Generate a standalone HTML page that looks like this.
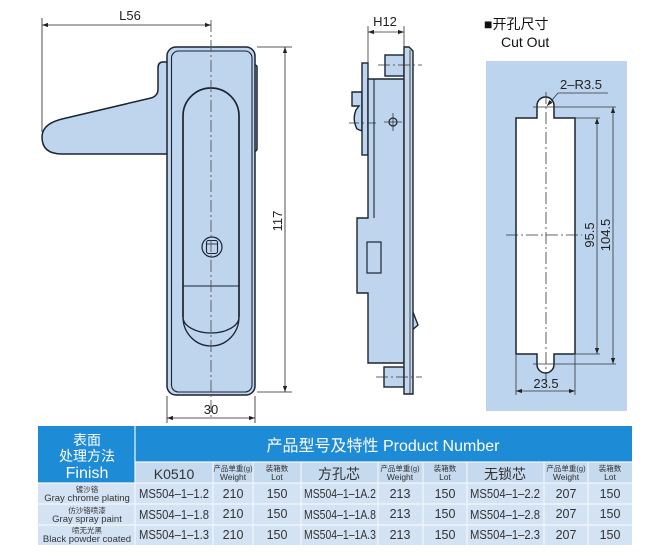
<!DOCTYPE html>
<html><head><meta charset="utf-8">
<style>
html,body{margin:0;padding:0;background:#fff;}
svg{display:block;}
text{font-family:"Liberation Sans","Noto Sans CJK SC",sans-serif;}
</style></head>
<body>
<svg width="672" height="557" viewBox="0 0 672 557" xmlns="http://www.w3.org/2000/svg">
<defs>
<marker id="a" viewBox="0 0 10 10" refX="10" refY="5" markerWidth="8" markerHeight="6" orient="auto-start-reverse" markerUnits="userSpaceOnUse"><path d="M0,1.5 L10,5 L0,8.5 Z" fill="#222"/></marker>
</defs>
<rect width="672" height="557" fill="#fff"/>

<!-- ============ FRONT VIEW ============ -->
<g stroke="#1a2433" stroke-width="1.5" fill="#bfd5ee">
  <rect x="250" y="65" width="7" height="86" rx="2"/>
  <path d="M168,62 L163,62 Q158,62 158,68 L158,89 Q158,96 151,98 L62,119 Q42,124 42,137 Q42,154 62,154 L168,154 Z"/>
  <rect x="167" y="47" width="88" height="348" rx="9"/>
  <rect x="171.5" y="51" width="80.5" height="341" rx="7" fill="none" stroke-width="1.1"/>
  <path d="M183,317 L183,116 A28,28 0 0 1 239,116 L239,317" fill="none" stroke-width="1.7"/>
  <path d="M183,317 A28,29 0 0 0 239,317" fill="none" stroke-width="1.3"/>
  <path d="M183,317 A28,16 0 0 0 239,317" fill="none" stroke-width="1.3"/>
  <line x1="183" y1="286" x2="239" y2="286" stroke-width="1.1"/>
  <circle cx="212" cy="247" r="10" stroke-width="1.2"/>
  <rect x="206.5" y="240.5" width="11" height="13" rx="2" stroke-width="1.1"/>
  <line x1="206.5" y1="244" x2="217.5" y2="244" stroke-width="0.8"/>
</g>
<line x1="211" y1="20" x2="211" y2="418" stroke="#555" stroke-width="0.9" stroke-dasharray="12 3 2 3"/>

<g stroke="#222" stroke-width="0.8" fill="none">
  <line x1="42" y1="18" x2="42" y2="132"/>
  <line x1="42" y1="25" x2="211" y2="25" marker-start="url(#a)" marker-end="url(#a)"/>
  <line x1="257" y1="47" x2="292" y2="47"/>
  <line x1="257" y1="392" x2="292" y2="392"/>
  <line x1="285" y1="47" x2="285" y2="392" marker-start="url(#a)" marker-end="url(#a)"/>
  <line x1="167" y1="396" x2="167" y2="423"/>
  <line x1="255" y1="396" x2="255" y2="423"/>
  <line x1="167" y1="418" x2="255" y2="418" marker-start="url(#a)" marker-end="url(#a)"/>
</g>
<text x="130" y="20" font-size="13" text-anchor="middle" fill="#222">L56</text>
<text transform="translate(282,221) rotate(-90)" font-size="13" text-anchor="middle" fill="#222">117</text>
<text x="211" y="414" font-size="13" text-anchor="middle" fill="#222">30</text>

<!-- ============ SIDE VIEW ============ -->
<g stroke="#1a2433" stroke-width="1.4" fill="#bfd5ee">
  <rect x="385" y="55" width="19" height="21"/>
  <rect x="384" y="367" width="20" height="20"/>
  <path d="M352,92 L362,92 L362,131 L357,129 Q352,119 356,110 L359,106 L352,106 Z"/>
  <rect x="362" y="63" width="6" height="92"/>
  <path d="M368,79 L404,79 L404,363 L368,363 L368,293 L357,293 L357,218 L368,218 Z"/>
  <line x1="374" y1="79" x2="374" y2="218" stroke-width="1.1"/>
  <rect x="367" y="242" width="14" height="31" stroke-width="1.2"/>
  <path d="M411,307 L418,325 L411,331 Z"/>
  <path d="M404,47 L409,47 L413,51 L413,394 L404,394 Z" fill="#c6d7ea"/>
  <line x1="410" y1="50" x2="410" y2="394" stroke-width="0.8"/>
  <circle cx="393" cy="122" r="4" fill="none" stroke-width="1.2"/>
</g>
<g stroke="#333" stroke-width="0.8" fill="none">
  <line x1="378" y1="65" x2="422" y2="65" stroke-dasharray="12 3 2 3"/>
  <line x1="376" y1="377" x2="422" y2="377" stroke-dasharray="12 3 2 3"/>
  <line x1="349" y1="123" x2="376" y2="123" stroke-dasharray="10 3 2 3"/>
  <line x1="384" y1="122" x2="402" y2="122"/>
  <line x1="393" y1="113" x2="393" y2="131"/>
  <line x1="368" y1="26" x2="368" y2="79"/>
  <line x1="404" y1="26" x2="404" y2="47"/>
  <line x1="368" y1="32" x2="404" y2="32" marker-start="url(#a)" marker-end="url(#a)"/>
</g>
<text x="385" y="26" font-size="13" text-anchor="middle" fill="#222">H12</text>

<!-- ============ CUT OUT ============ -->
<text x="484" y="29" font-size="14" fill="#111">■开孔尺寸</text>
<text x="501" y="47" font-size="14" fill="#111">Cut Out</text>
<rect x="486" y="61" width="141" height="350" fill="#bcd4ed"/>
<path d="M516,118 L537,118 L537,105.5 A8.5,8.5 0 0 1 554,105.5 L554,118 L575,118 L575,354 L554,354 L554,364.5 A8.5,8.5 0 0 1 537,364.5 L537,354 L516,354 Z" fill="#fff" stroke="#1a2433" stroke-width="1.5"/>
<g stroke="#333" stroke-width="0.8" fill="none">
  <line x1="546" y1="92" x2="546" y2="382" stroke-dasharray="12 3 2 3"/>
  <line x1="506" y1="235" x2="582" y2="235" stroke-dasharray="12 3 2 3"/>
  <line x1="533" y1="107" x2="616" y2="107"/>
  <line x1="533" y1="364" x2="616" y2="364"/>
  <line x1="575" y1="118" x2="600" y2="118"/>
  <line x1="575" y1="354" x2="600" y2="354"/>
  <line x1="597" y1="118" x2="597" y2="354" marker-start="url(#a)" marker-end="url(#a)"/>
  <line x1="613" y1="107" x2="613" y2="364" marker-start="url(#a)" marker-end="url(#a)"/>
  <line x1="516" y1="355" x2="516" y2="395"/>
  <line x1="575" y1="355" x2="575" y2="395"/>
  <line x1="516" y1="391" x2="575" y2="391" marker-start="url(#a)" marker-end="url(#a)"/>
  <line x1="558" y1="93" x2="608" y2="93"/>
  <line x1="558" y1="93" x2="547" y2="106" marker-end="url(#a)"/>
</g>
<text x="560" y="89" font-size="13" fill="#222">2–R3.5</text>
<text transform="translate(594,235) rotate(-90)" font-size="13" text-anchor="middle" fill="#222">95.5</text>
<text transform="translate(610,235) rotate(-90)" font-size="13" text-anchor="middle" fill="#222">104.5</text>
<text x="546" y="388" font-size="13" text-anchor="middle" fill="#222">23.5</text>

<!-- ============ TABLE ============ -->
<g>
  <rect x="38" y="426" width="594" height="36" fill="#1d8bd5"/>
  <rect x="38" y="426" width="97" height="57" fill="#1d8bd5"/>
  <rect x="135" y="462" width="497" height="21" fill="#c5d9ef"/>
  <rect x="38" y="483" width="594" height="62" fill="#d4e3f4"/>
  <g stroke="#f2f6fb" stroke-width="1.2">
    <line x1="135" y1="426" x2="135" y2="545"/>
    <line x1="135" y1="462" x2="632" y2="462"/>
    <line x1="38" y1="483" x2="632" y2="483"/>
    <line x1="38" y1="504" x2="632" y2="504"/>
    <line x1="38" y1="525" x2="632" y2="525"/>
    <line x1="213" y1="462" x2="213" y2="545"/>
    <line x1="253" y1="462" x2="253" y2="545"/>
    <line x1="301" y1="462" x2="301" y2="545"/>
    <line x1="378" y1="462" x2="378" y2="545"/>
    <line x1="423" y1="462" x2="423" y2="545"/>
    <line x1="467" y1="462" x2="467" y2="545"/>
    <line x1="544" y1="462" x2="544" y2="545"/>
    <line x1="588" y1="462" x2="588" y2="545"/>
  </g>
  <g fill="#fff" text-anchor="middle">
    <text x="87" y="445" font-size="14">表面</text>
    <text x="87" y="461" font-size="14">处理方法</text>
    <text x="87" y="478" font-size="16">Finish</text>
    <text x="383" y="451" font-size="16">产品型号及特性 Product Number</text>
  </g>
  <g fill="#333" text-anchor="middle">
    <text x="174" y="479" font-size="14">K0510</text>
    <text x="339" y="479" font-size="14">方孔芯</text>
    <text x="505" y="479" font-size="14">无锁芯</text>
    <text x="233" y="471" font-size="7.5">产品单重(g)</text>
    <text x="233" y="480" font-size="8.5">Weight</text>
    <text x="277" y="471" font-size="7.5">装箱数</text>
    <text x="277" y="480" font-size="8.5">Lot</text>
    <text x="400" y="471" font-size="7.5">产品单重(g)</text>
    <text x="400" y="480" font-size="8.5">Weight</text>
    <text x="445" y="471" font-size="7.5">装箱数</text>
    <text x="445" y="480" font-size="8.5">Lot</text>
    <text x="566" y="471" font-size="7.5">产品单重(g)</text>
    <text x="566" y="480" font-size="8.5">Weight</text>
    <text x="610" y="471" font-size="7.5">装箱数</text>
    <text x="610" y="480" font-size="8.5">Lot</text>

    <text x="87" y="492" font-size="7.5">镀沙铬</text>
    <text x="87" y="501" font-size="9.5">Gray chrome plating</text>
    <text x="87" y="513" font-size="7.5">仿沙铬喷漆</text>
    <text x="87" y="522" font-size="9.5">Gray spray paint</text>
    <text x="87" y="533" font-size="7.5">喷无光黑</text>
    <text x="87" y="542" font-size="9.5">Black powder coated</text>

    <g font-size="12.5">
      <text x="174" y="498" textLength="70" lengthAdjust="spacingAndGlyphs">MS504–1–1.2</text>
      <text x="233" y="498">210</text>
      <text x="277" y="498">150</text>
      <text x="340" y="498" textLength="72" lengthAdjust="spacingAndGlyphs">MS504–1–1A.2</text>
      <text x="400" y="498">213</text>
      <text x="445" y="498">150</text>
      <text x="505" y="498" textLength="70" lengthAdjust="spacingAndGlyphs">MS504–1–2.2</text>
      <text x="566" y="498">207</text>
      <text x="610" y="498">150</text>

      <text x="174" y="519" textLength="70" lengthAdjust="spacingAndGlyphs">MS504–1–1.8</text>
      <text x="233" y="518">210</text>
      <text x="277" y="518">150</text>
      <text x="340" y="519" textLength="72" lengthAdjust="spacingAndGlyphs">MS504–1–1A.8</text>
      <text x="400" y="518">213</text>
      <text x="445" y="518">150</text>
      <text x="505" y="519" textLength="70" lengthAdjust="spacingAndGlyphs">MS504–1–2.8</text>
      <text x="566" y="518">207</text>
      <text x="610" y="518">150</text>

      <text x="174" y="539" textLength="70" lengthAdjust="spacingAndGlyphs">MS504–1–1.3</text>
      <text x="233" y="539">210</text>
      <text x="277" y="539">150</text>
      <text x="340" y="539" textLength="72" lengthAdjust="spacingAndGlyphs">MS504–1–1A.3</text>
      <text x="400" y="539">213</text>
      <text x="445" y="539">150</text>
      <text x="505" y="539" textLength="70" lengthAdjust="spacingAndGlyphs">MS504–1–2.3</text>
      <text x="566" y="539">207</text>
      <text x="610" y="539">150</text>
    </g>
  </g>
</g>
</svg>
</body></html>
